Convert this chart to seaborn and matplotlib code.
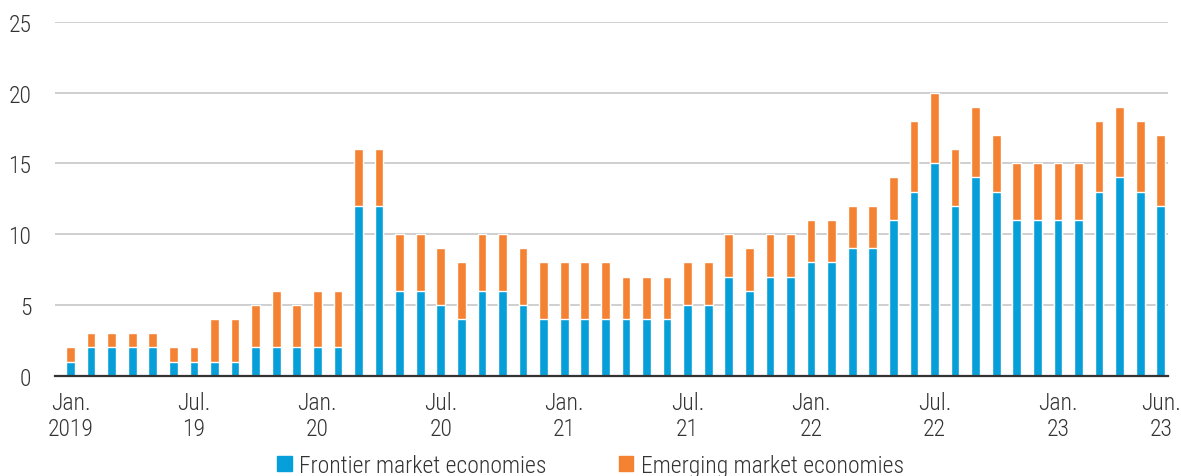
import matplotlib
matplotlib.use('Agg')
import matplotlib.pyplot as plt
from matplotlib.patches import Patch
import pandas as pd
import seaborn as sns

# menesiai nuo 2019 sausio iki 2023 birzelio
menesiai = pd.date_range('2019-01-01', '2023-06-01', freq='MS').strftime('%Y-%m').tolist()

frontier = [1, 2, 2, 2, 2, 1, 1, 1, 1, 2, 2, 2,
            2, 2, 12, 12, 6, 6, 5, 4, 6, 6, 5, 4,
            4, 4, 4, 4, 4, 4, 5, 5, 7, 6, 7, 7,
            8, 8, 9, 9, 11, 13, 15, 12, 14, 13, 11, 11,
            11, 11, 13, 14, 13, 12]
emerging = [1, 1, 1, 1, 1, 1, 1, 3, 3, 3, 4, 3,
            4, 4, 4, 4, 4, 4, 4, 4, 4, 4, 4, 4,
            4, 4, 4, 3, 3, 3, 3, 3, 3, 3, 3, 3,
            3, 3, 3, 3, 3, 5, 5, 4, 5, 4, 4, 4,
            4, 4, 5, 5, 5, 5]

tick_vietos = list(range(0, 52, 3)) + [53]
tick_tekstai = {0: 'Jan.\n2019', 6: 'Jul.\n19', 12: 'Jan.\n20', 18: 'Jul.\n20',
                24: 'Jan.\n21', 30: 'Jul.\n21', 36: 'Jan.\n22', 42: 'Jul.\n22',
                48: 'Jan.\n23', 53: 'Jun.\n23'}

melyna = '#079FD9'
oranzine = '#F58233'

df = pd.DataFrame({'menuo': menesiai, 'frontier': frontier, 'emerging': emerging})
df['viso'] = df['frontier'] + df['emerging']

sns.set_style('white')
plt.rcParams['font.family'] = ['Roboto Condensed', 'Roboto', 'DejaVu Sans']
plt.rcParams['font.weight'] = 'light'

fig = plt.figure(figsize=(11.81, 4.77), dpi=100)
ax = fig.add_axes([0.0466, 0.2103, 0.9424, 0.7421])

# pirma visa suma (oranzine), ant virsaus frontier (melyna)
sns.barplot(data=df, x='menuo', y='viso', color=oranzine, width=0.42,
            saturation=1, ax=ax, order=menesiai)
sns.barplot(data=df, x='menuo', y='frontier', color=melyna, width=0.42,
            saturation=1, ax=ax, order=menesiai)

ax.set_ylim(0, 25)
ax.set_xlim(-0.75, 53.35)
ax.set_yticks([0, 5, 10, 15, 20, 25])
ax.yaxis.grid(True, color='#CCCCCC', linewidth=1.3)
ax.set_axisbelow(True)
for s in ['top', 'right', 'left']:
    ax.spines[s].set_visible(False)
ax.spines['bottom'].set_color('#333333')
ax.spines['bottom'].set_linewidth(1.6)

ax.set_xticks(tick_vietos)
ax.set_xticklabels([tick_tekstai.get(t, '') for t in tick_vietos], linespacing=1.15)
ax.tick_params(axis='x', length=5, width=1.3, color='#333333', pad=6,
               labelsize=17, labelcolor='#333333')
ax.tick_params(axis='y', length=0, pad=17, labelsize=17, labelcolor='#333333')
ax.set_xlabel('')
ax.set_ylabel('')

rankenos = [Patch(color=melyna, label='Frontier market economies'),
            Patch(color=oranzine, label='Emerging market economies')]
fig.legend(handles=rankenos, loc='lower center', bbox_to_anchor=(0.5, -0.046),
           ncol=2, frameon=False, fontsize=17, handlelength=0.6,
           handleheight=0.6, handletextpad=0.3, columnspacing=3.1,
           labelcolor='#333333')

fig.savefig('out.png', dpi=100, facecolor='white')
